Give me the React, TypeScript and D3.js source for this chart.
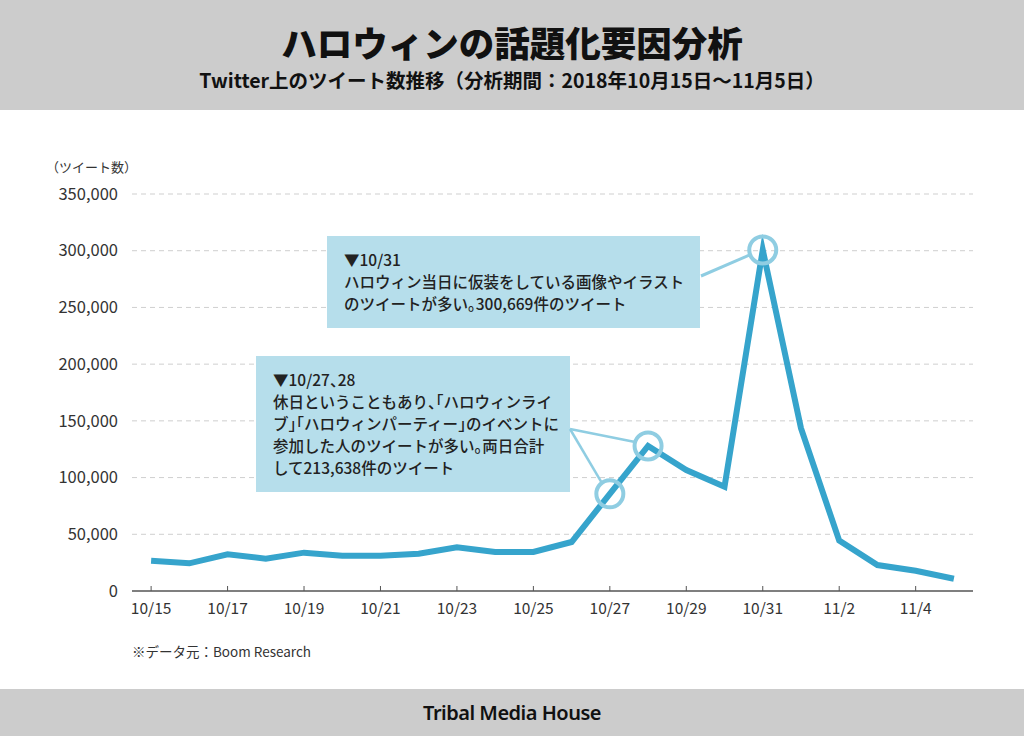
import React from "react";
import * as d3 from "d3";

const dates = [
  "10/15","10/16","10/17","10/18","10/19","10/20","10/21","10/22","10/23","10/24","10/25",
  "10/26","10/27","10/28","10/29","10/30","10/31","11/1","11/2","11/3","11/4","11/5",
];
const tweets = [
  26700, 24400, 32400, 28500, 33800, 31100, 31100, 32800, 38500, 34400, 34400,
  43200, 85700, 127900, 106700, 92000, 300669, 143500, 44400, 22900, 17900, 10800,
];
const xTickLabels = ["10/15","10/17","10/19","10/21","10/23","10/25","10/27","10/29","10/31","11/2","11/4"];
const yTicks = [0, 50000, 100000, 150000, 200000, 250000, 300000, 350000];
const highlightDates = ["10/27", "10/28", "10/31"];

const titleText = "ハロウィンの話題化要因分析";
const subtitleText = "Twitter上のツイート数推移（分析期間：2018年10月15日～11月5日）";
const yAxisLabel = "（ツイート数）";
const sourceText = "※データ元：Boom Research";
const footerText = "Tribal Media House";
const note1 = ["▼10/31", "ハロウィン当日に仮装をしている画像やイラスト", "のツイートが多い。300,669件のツイート"];
const note2 = [
  "▼10/27、28",
  "休日ということもあり、「ハロウィンライ",
  "ブ」「ハロウィンパーティー」のイベントに",
  "参加した人のツイートが多い。両日合計",
  "して213,638件のツイート",
];

const JP = "'Noto Sans CJK JP', 'Noto Sans', sans-serif";

function punct(s: string) {
  return s.split(/([「」、。])/).filter((p) => p.length > 0).map((p, i) =>
    /^[「」、。]$/.test(p)
      ? <tspan key={i} style={{ fontFeatureSettings: "'halt'" }}>{p}</tspan>
      : <tspan key={i}>{p}</tspan>
  );
}

export default function App() {
  const W = 1024, H = 736;
  const x = d3.scalePoint<string>().domain(dates).range([132, 973]).padding(0.5);
  const y = d3.scaleLinear().domain([0, 350000]).range([591, 194]);
  const line = d3.line<number>()
    .x((_, i) => x(dates[i]) as number)
    .y((d) => y(d));
  const fmt = d3.format(",");
  const pt = (d: string) => ({ cx: x(d) as number, cy: y(tweets[dates.indexOf(d)]) });
  const p27 = pt(highlightDates[0]);
  const p28 = pt(highlightDates[1]);
  const p31 = pt(highlightDates[2]);
  const textColor = "#222";
  const lightLine = "#8fcde2";

  return (
    <svg width={W} height={H} style={{ position: "absolute", left: 0, top: 0 }} fontFamily={JP}>
      <rect x={0} y={0} width={W} height={H} fill="#fff" />
      <rect x={0} y={0} width={W} height={110} fill="#cccccc" />
      <text x={512} y={57} textAnchor="middle" fontSize={35.5} fontWeight={900} fill="#111">{titleText}</text>
      <text x={512} y={88} textAnchor="middle" fontSize={19.5} fontWeight={700} fill="#111">{subtitleText}</text>

      {/* grid */}
      {yTicks.filter((t) => t > 0).map((t) => (
        <line key={t} x1={132} x2={973} y1={y(t)} y2={y(t)} stroke="#cfcfcf" strokeDasharray="5,4" strokeWidth={1} />
      ))}
      {yTicks.map((t) => (
        <text key={"l" + t} x={118} y={y(t)} dy="0.35em" textAnchor="end" fontSize={16.5} fill="#333">{fmt(t)}</text>
      ))}
      <text x={46} y={172} fontSize={13} fill="#333">{yAxisLabel}</text>

      {/* x axis */}
      <line x1={132} x2={973} y1={591} y2={591} stroke="#555" strokeWidth={1.5} />
      {xTickLabels.map((d) => (
        <g key={d}>
          <line x1={x(d)} x2={x(d)} y1={591} y2={586} stroke="#555" strokeWidth={1} />
          <text x={x(d)} y={614} textAnchor="middle" fontSize={15.5} fill="#333">{d}</text>
        </g>
      ))}

      {/* annotation boxes */}
      <rect x={327} y={236} width={373} height={92} fill="#b6deeb" />
      <line x1={701} y1={276} x2={p31.cx - 13} y2={p31.cy + 5} stroke={lightLine} strokeWidth={3} />
      {note1.map((s, i) => (
        <text key={i} x={344} y={266 + i * 22} fontSize={15.5} fontWeight={500} fill={textColor}>{punct(s)}</text>
      ))}

      <rect x={256} y={356} width={314} height={136} fill="#b6deeb" />
      <line x1={570} y1={429} x2={p28.cx - 13} y2={p28.cy - 4} stroke={lightLine} strokeWidth={2.5} />
      <line x1={570} y1={429} x2={p27.cx - 8} y2={p27.cy - 11} stroke={lightLine} strokeWidth={2.5} />
      {note2.map((s, i) => (
        <text key={i} x={273} y={386 + i * 22} fontSize={15.5} fontWeight={500} fill={textColor}>{punct(s)}</text>
      ))}

      {/* data line */}
      <path d={line(tweets) || ""} fill="none" stroke="#36a4cc" strokeWidth={6} strokeLinejoin="miter" strokeMiterlimit={10} />

      {[p27, p28, p31].map((p, i) => (
        <circle key={i} cx={p.cx} cy={p.cy} r={13.5} fill="none" stroke={lightLine} strokeWidth={4} />
      ))}

      <text x={132} y={657} fontSize={13.5} fill="#333">{sourceText}</text>

      <rect x={0} y={689} width={W} height={47} fill="#cccccc" />
      <text x={512} y={720} textAnchor="middle" fontSize={20} fontWeight={600} fill="#111" fontFamily="'Noto Sans', sans-serif" letterSpacing={-0.5}>{footerText}</text>
    </svg>
  );
}
